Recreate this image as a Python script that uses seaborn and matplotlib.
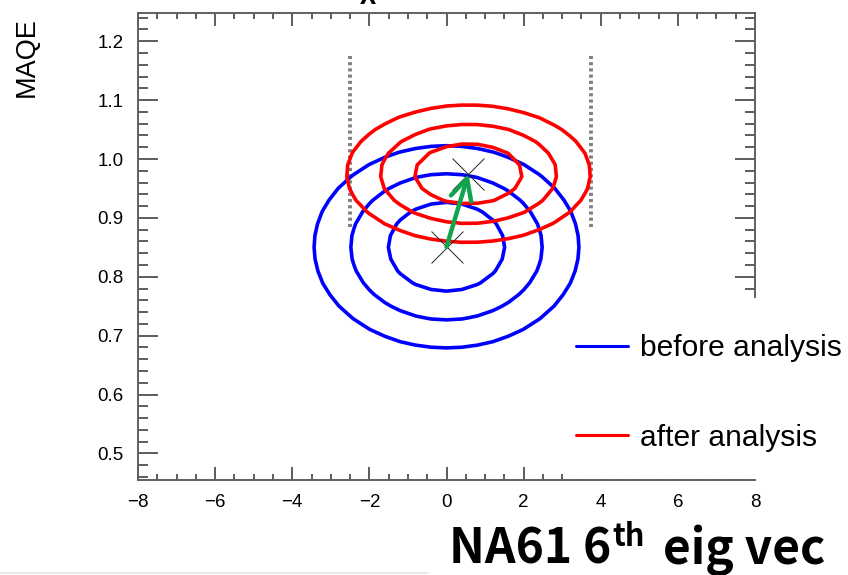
import numpy as np
import matplotlib
matplotlib.use("Agg")
import matplotlib.pyplot as plt
import seaborn as sns
from matplotlib.lines import Line2D
from matplotlib.patches import Rectangle
from matplotlib.ticker import AutoMinorLocator, FixedLocator, FixedFormatter

# Best-fit points and widths of the chi2 surface (eigenvector pull, MAQE)
fit_labels = ["before analysis", "after analysis"]
fit_colors = ["#0000ff", "#ff0000"]
fit_x = [0.0, 0.57]
fit_y = [0.851, 0.975]
sigma_x = [1.0, 0.92]
sigma_y = [0.050, 0.034]

# Delta-chi2 levels for 1, 2 and 3 sigma with two free parameters
dchi2_levels = [2.30, 6.18, 11.83]

# Allowed range of the eigenvector parameter
prior_bounds = [-2.5, 3.75]
prior_y = [0.885, 1.175]

x_ticks = [-8, -6, -4, -2, 0, 2, 4, 6, 8]
y_ticks = [0.5, 0.6, 0.7, 0.8, 0.9, 1.0, 1.1, 1.2]
y_tick_labels = ["0.5", "0.6", "0.7", "0.8", "0.9", "1.0", "1.1", "1.2"]

W, H = 848, 575
sns.set_theme(style="ticks")
plt.rcParams["font.family"] = ["Liberation Sans", "DejaVu Sans"]
plt.rcParams["text.color"] = "black"
plt.rcParams["axes.labelcolor"] = "black"

fig = plt.figure(figsize=(W / 100, H / 100), dpi=100)
fig.patch.set_facecolor("white")
ax = fig.add_axes([138 / W, (H - 480) / H, 617 / W, 467 / H])
ax.set_facecolor("white")

# chi2 scan on a coarse grid, as from a histogrammed likelihood scan
gx = np.linspace(-8, 8, 41)
gy = np.linspace(0.45, 1.25, 41)
GX, GY = np.meshgrid(gx, gy)
for cx, cy, sx, sy, col in zip(fit_x, fit_y, sigma_x, sigma_y, fit_colors):
    chi2 = ((GX - cx) / sx) ** 2 + ((GY - cy) / sy) ** 2
    ax.contour(GX, GY, chi2, levels=dchi2_levels, colors=col, linewidths=2.6, zorder=3)

# prior range markers
ax.vlines(prior_bounds, prior_y[0], prior_y[1], colors="#808080", linewidth=2.8,
          linestyles=[(0, (0.8, 0.8))], zorder=2)

# best-fit points
sns.scatterplot(x=fit_x, y=fit_y, marker="x", s=23 ** 2, color="#222222",
                linewidth=0.7, ax=ax, zorder=4, legend=False)

# shift of the best-fit point
ax.annotate("", xy=(fit_x[1], fit_y[1]), xytext=(fit_x[0], fit_y[0]),
            arrowprops=dict(arrowstyle="->,head_length=0.75,head_width=0.38",
                            color="#11a34e", lw=3.2, mutation_scale=20,
                            shrinkA=0, shrinkB=0), zorder=5)

ax.set_xlim(-8, 8)
ax.set_ylim(0.455, 1.248)
ax.xaxis.set_major_locator(FixedLocator(x_ticks))
ax.yaxis.set_major_locator(FixedLocator(y_ticks))
ax.yaxis.set_major_formatter(FixedFormatter(y_tick_labels))
ax.xaxis.set_minor_locator(AutoMinorLocator(4))
ax.yaxis.set_minor_locator(AutoMinorLocator(5))
ax.set_xlabel("")
ax.set_ylabel("")

for sp in ax.spines.values():
    sp.set_color("#606060")
    sp.set_linewidth(1.4)
ax.tick_params(axis="both", which="both", direction="in", top=True, right=True,
               color="#303030", width=1.1, labelsize=13.5, labelcolor="black")
ax.tick_params(axis="x", which="major", length=9.4, pad=10)
ax.tick_params(axis="x", which="minor", length=4.3)
ax.tick_params(axis="y", which="major", length=14.4, pad=10.5)
ax.tick_params(axis="y", which="minor", length=7.2)

fig.text(27 / W, 1 - 57 / H, "MAQE", rotation=90, ha="center", va="center",
         fontsize=19.5, color="black")

# blank panel holding the legend
fig.add_artist(Rectangle((565 / W, (H - 478.5) / H), 1 - 565 / W, (478.5 - 298) / H,
                         transform=fig.transFigure, facecolor="white",
                         edgecolor="none", zorder=5))
handles = [Line2D([], [], color=c, lw=2.2) for c in fit_colors]
leg = fig.legend(handles=handles, labels=fit_labels, loc="upper left",
                 bbox_to_anchor=(576 / W, 1 - 334 / H), frameon=False,
                 fontsize=21.6, handlelength=1.74, handletextpad=0.38,
                 labelspacing=2.05, borderpad=0, borderaxespad=0)
leg.set_zorder(6)
for t in leg.get_texts():
    t.set_color("black")

# partly visible title at the top edge
fig.text(368 / W, 1 + 2 / H, "χ", fontsize=20, fontweight="bold", ha="center",
         va="baseline", color="black")

fig.add_artist(Line2D([0, 428 / W], [1 - 572.5 / H] * 2, color="#e3e3e3", lw=1.2,
                      transform=fig.transFigure))

# axis title with superscript, laid out piece by piece
renderer = fig.canvas.get_renderer()
kw = dict(fontweight="bold", family=["Noto Sans CJK JP", "DejaVu Sans"], color="black",
          va="baseline", ha="left")
base = 1 - 564 / H
pieces = [("NA61 6", 34.5, 0, 0), ("th", 22, 1, 18), ("eig vec", 34.5, 18, 0)]
x = 449 / W
for txt, size, gap, rise in pieces:
    t = fig.text(x + gap / W, base + rise / H, txt, fontsize=size, **kw)
    x = t.get_window_extent(renderer).x1 / W

fig.savefig("out.png", dpi=100, facecolor="white")
